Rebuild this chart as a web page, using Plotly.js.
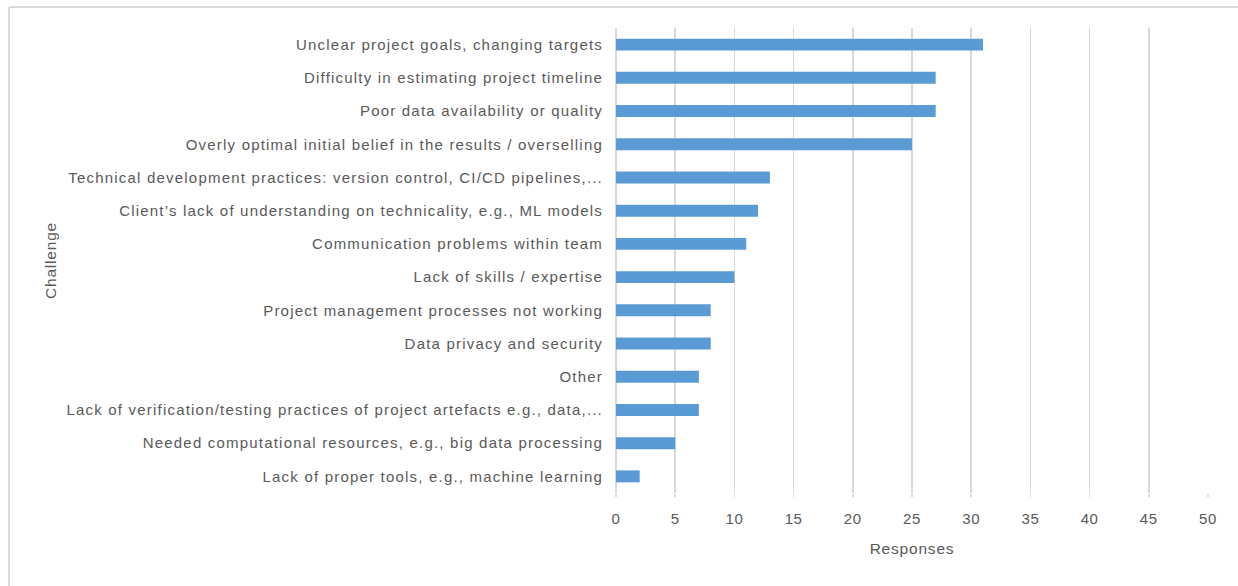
<!DOCTYPE html>
<html>
<head>
<meta charset="utf-8">
<script src="https://cdn.plot.ly/plotly-3.0.1.min.js"></script>
<style>
html,body{margin:0;padding:0;background:#fff;overflow:hidden;}
#chart{width:1238px;height:586px;}
#cover{position:absolute;left:1234px;top:9px;width:4px;height:577px;background:#fff;z-index:10;pointer-events:none;}
#chart .ytick text{letter-spacing:1.2px;}
#chart .xtick text{letter-spacing:0.6px;}
#chart .g-xtitle text, #chart .g-ytitle text{letter-spacing:0.8px;}
</style>
</head>
<body>
<div id="chart"></div>
<div id="cover"></div>
<script>
const challenges = [
  "Unclear project goals, changing targets",
  "Difficulty in estimating project timeline",
  "Poor data availability or quality",
  "Overly optimal initial belief in the results / overselling",
  "Technical development practices: version control, CI/CD pipelines,...",
  "Client\u2019s lack of understanding on technicality, e.g., ML models",
  "Communication problems within team",
  "Lack of skills / expertise",
  "Project management processes not working",
  "Data privacy and security",
  "Other",
  "Lack of verification/testing practices of project artefacts e.g., data,...",
  "Needed computational resources, e.g., big data processing",
  "Lack of proper tools, e.g., machine learning"
];
const responses = [31, 27, 27, 25, 13, 12, 11, 10, 8, 8, 7, 7, 5, 2];
const xTicks = [0, 5, 10, 15, 20, 25, 30, 35, 40, 45, 50];

const fontFam = "Liberation Sans, Arial, sans-serif";
const textColor = "#595959";

Plotly.newPlot("chart", [{
  type: "bar",
  orientation: "h",
  y: challenges,
  x: responses,
  width: 0.36,
  marker: {color: "#5b9bd5"},
  hoverinfo: "x+y"
}], {
  width: 1238,
  height: 586,
  margin: {l: 616, r: 30, t: 28, b: 93},
  paper_bgcolor: "#ffffff",
  plot_bgcolor: "#ffffff",
  showlegend: false,
  font: {family: fontFam, size: 15, color: textColor},
  shapes: [
    {type: "line", xref: "paper", yref: "paper", x0: -606/592, x1: 630/592, y0: (586-7-93)/465, y1: (586-7-93)/465, line: {color: "#d9d9d9", width: 2}},
    {type: "line", xref: "paper", yref: "paper", x0: -607/592, x1: -607/592, y0: (586-7-93)/465, y1: -100/465, line: {color: "#d9d9d9", width: 2}}
  ],
  xaxis: {
    range: [0, 50],
    tickvals: xTicks,
    ticktext: xTicks.map(String),
    showgrid: true,
    gridcolor: "#d9d9d9",
    gridwidth: 1.5,
    zeroline: true,
    zerolinecolor: "#d9d9d9",
    zerolinewidth: 1.5,
    showline: false,
    ticks: "outside",
    ticklen: 3,
    tickcolor: "#d9d9d9",
    tickwidth: 1.5,
    ticklabelstandoff: 9,
    tickfont: {family: fontFam, size: 15, color: textColor},
    title: {text: "Responses", font: {family: fontFam, size: 15.5, color: textColor}, standoff: 17},
    fixedrange: true
  },
  yaxis: {
    autorange: "reversed",
    showgrid: false,
    zeroline: false,
    showline: false,
    ticks: "",
    ticklabelstandoff: 12,
    tickfont: {family: fontFam, size: 15, color: textColor},
    title: {text: "Challenge", font: {family: fontFam, size: 15.5, color: textColor}, standoff: 90},
    fixedrange: true
  }
}, {displayModeBar: false, staticPlot: true});
</script>
</body>
</html>
